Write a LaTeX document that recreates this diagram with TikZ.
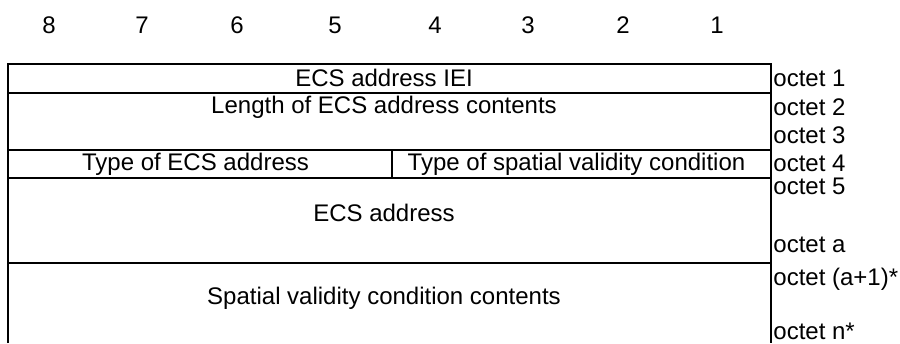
\documentclass[tikz,border=0pt]{standalone}
\usepackage{fontspec}
\setmainfont{Liberation Sans}
\usetikzlibrary{positioning}
\tikzset{
  frame/.style={draw=black,line width=1pt},
  field/.style={font=\fontsize{12}{14}\selectfont,inner sep=0pt},
  octet/.style={font=\fontsize{12}{14}\selectfont,inner sep=0pt,anchor=west},
  bitno/.style={font=\fontsize{12}{14}\selectfont,inner sep=0pt},
}

\begin{document}
\begin{tikzpicture}[x=0.5pt,y=-0.5pt]
        \useasboundingbox (0,0) rectangle (900,343);
        % bit numbers
        \foreach \b/\x in {8/49,7/142,6/237,5/335,4/435,3/528,2/623,1/717}{
          \node[bitno] (b\b) at (\x,25) {\b};
        }
        % frame
        \draw[frame] (8,343) -- (8,64) -- (771,64) -- (771,343);
        \foreach \y in {92.5,150,177.5,262.5} \draw[frame] (8,\y) -- (771,\y);
        \draw[frame] (392,150) -- (392,177.5);
        % fields
        \node[field] (iei) at (384,78) {ECS address IEI};
        \node[field] (len) at (384,107) {Length of ECS address contents};
        \node[field] (type) at (195.5,164) {Type of ECS address};
        \node[field] (svc) at (576.5,164) {Type of spatial validity condition};
        \node[field] (addr) at (384,213) {ECS address};
        \node[field] (cont) at (384,298) {Spatial validity condition contents};
        % octets
        \foreach \t/\y [count=\i] in {octet 1/78,octet 2/107,octet 3/135,octet 4/163.5,octet 5/186,octet a/245,octet (a+1)*/279,octet n*/331}{
          \node[octet] (o\i) at (773,\y) {\t};
        }
      \end{tikzpicture}
\end{document}
